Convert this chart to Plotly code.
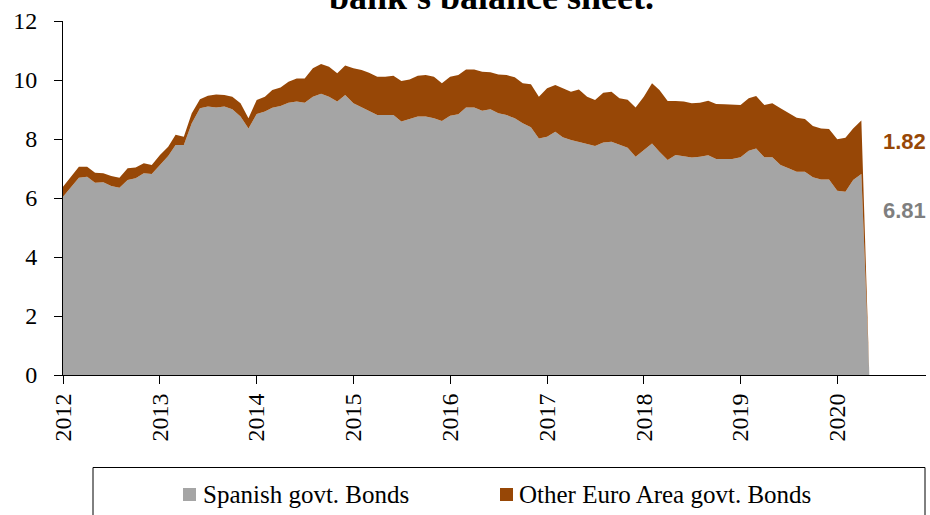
import pandas as pd
import plotly.graph_objects as go

# Monthly holdings, Jan 2012 .. May 2020 (EUR bn)
months = pd.date_range("2012-01-01", periods=101, freq="MS")

spanish_bonds = [
    6.04, 6.38, 6.69, 6.72, 6.52, 6.53, 6.41, 6.35, 6.61, 6.67, 6.84, 6.81,
    7.12, 7.42, 7.80, 7.80, 8.53, 9.04, 9.10, 9.07, 9.10, 9.01, 8.76, 8.36,
    8.85, 8.93, 9.06, 9.12, 9.23, 9.27, 9.23, 9.43, 9.53, 9.43, 9.27, 9.49,
    9.21, 9.07, 8.96, 8.81, 8.81, 8.81, 8.59, 8.67, 8.76, 8.76, 8.70, 8.61,
    8.79, 8.84, 9.07, 9.07, 8.96, 9.01, 8.87, 8.81, 8.70, 8.53, 8.40, 8.02,
    8.08, 8.25, 8.06, 7.97, 7.91, 7.83, 7.76, 7.88, 7.91, 7.80, 7.70, 7.40,
    7.63, 7.85, 7.57, 7.29, 7.46, 7.42, 7.37, 7.40, 7.45, 7.32, 7.31, 7.32,
    7.38, 7.60, 7.68, 7.38, 7.38, 7.12, 7.01, 6.89, 6.89, 6.70, 6.63, 6.63,
    6.25, 6.21, 6.61, 6.81, 0.00,
]

other_euro_bonds = [
    0.34, 0.34, 0.37, 0.34, 0.34, 0.31, 0.34, 0.34, 0.40, 0.36, 0.34, 0.31,
    0.34, 0.32, 0.34, 0.28, 0.34, 0.31, 0.37, 0.44, 0.39, 0.42, 0.45, 0.34,
    0.47, 0.50, 0.60, 0.63, 0.71, 0.78, 0.82, 0.97, 1.01, 1.02, 0.96, 1.00,
    1.19, 1.27, 1.29, 1.30, 1.30, 1.33, 1.38, 1.35, 1.38, 1.41, 1.41, 1.28,
    1.32, 1.33, 1.29, 1.29, 1.32, 1.25, 1.32, 1.36, 1.39, 1.36, 1.46, 1.41,
    1.64, 1.58, 1.66, 1.63, 1.77, 1.60, 1.56, 1.69, 1.69, 1.58, 1.63, 1.67,
    1.80, 2.04, 2.09, 2.00, 1.83, 1.85, 1.84, 1.83, 1.85, 1.87, 1.87, 1.85,
    1.77, 1.78, 1.78, 1.77, 1.83, 1.92, 1.88, 1.83, 1.79, 1.74, 1.73, 1.71,
    1.74, 1.83, 1.75, 1.82, 0.00,
]

series_names = ["Spanish govt. Bonds", "Other Euro Area govt. Bonds"]
series_colors = ["#A5A5A5", "#974706"]
label_colors = ["#7F7F7F", "#974706"]

year_ticks = pd.date_range("2012-01-01", "2020-01-01", freq="YS")
year_labels = [str(d.year) for d in year_ticks]

SERIF = "Liberation Serif"

fig = go.Figure()
for name, values, color in zip(series_names, [spanish_bonds, other_euro_bonds], series_colors):
    fig.add_trace(go.Scatter(
        x=months, y=values, name=name, mode="lines",
        stackgroup="bonds", line=dict(width=0, color=color),
        fillcolor=color, showlegend=False,
    ))

# End-of-series value labels (last non-zero month)
last_idx = len(months) - 2
last_date = months[last_idx]
fig.add_annotation(
    x=last_date, y=7.92, xref="x", yref="y", xanchor="left", yanchor="middle",
    xshift=20, showarrow=False, text=f"<b>{other_euro_bonds[last_idx]:.2f}</b>",
    font=dict(family="Liberation Sans", size=22, color=label_colors[1]),
)
fig.add_annotation(
    x=last_date, y=5.56, xref="x", yref="y", xanchor="left", yanchor="middle",
    xshift=20, showarrow=False, text=f"<b>{spanish_bonds[last_idx]:.2f}</b>",
    font=dict(family="Liberation Sans", size=22, color=label_colors[0]),
)

# Tail end of the two-line title
fig.add_annotation(
    x=0.496, y=1.0668, xref="paper", yref="paper", xanchor="center", yanchor="middle",
    showarrow=False, text="<b>bank's balance sheet.</b>",
    font=dict(family=SERIF, size=36, color="black"),
)

# Legend box with swatches
W, H = 863.0, 354.0
def px_x(p):
    return (p - 63) / W
def px_y(p):
    return (375 - p) / H

fig.add_shape(type="rect", xref="paper", yref="paper",
              x0=px_x(93), x1=px_x(925), y0=px_y(530), y1=px_y(467.5),
              line=dict(color="black", width=1), fillcolor="rgba(0,0,0,0)")
for sx, tx, name, color in zip([183, 500], [201, 517], series_names, series_colors):
    fig.add_shape(type="rect", xref="paper", yref="paper",
                  x0=px_x(sx), x1=px_x(sx + 13), y0=px_y(501), y1=px_y(488),
                  line=dict(width=0), fillcolor=color)
    fig.add_annotation(x=px_x(tx), y=px_y(494), xref="paper", yref="paper",
                       xanchor="left", yanchor="middle", showarrow=False, text=name,
                       font=dict(family=SERIF, size=25, color="black"))

fig.update_layout(
    width=930, height=515,
    margin=dict(l=63, r=4, t=21, b=140),
    paper_bgcolor="white", plot_bgcolor="white",
    font=dict(family=SERIF, size=24, color="black"),
    showlegend=False,
)
fig.update_xaxes(
    type="date", range=["2012-01-01", "2020-12-01"],
    tickvals=year_ticks, ticktext=year_labels, tickangle=-90,
    ticks="outside", ticklen=8, tickcolor="black", tickwidth=1,
    showline=True, linecolor="black", linewidth=1,
    showgrid=False, zeroline=False,
    tickfont=dict(family=SERIF, size=24, color="black"),
)
fig.update_yaxes(
    range=[0, 12], dtick=2, tick0=0,
    ticks="outside", ticklen=8, tickcolor="black", tickwidth=1,
    showline=True, linecolor="black", linewidth=1,
    showgrid=False, zeroline=False,
    tickfont=dict(family=SERIF, size=24, color="black"),
    ticklabelstandoff=12,
)

fig.write_html("out.html")
